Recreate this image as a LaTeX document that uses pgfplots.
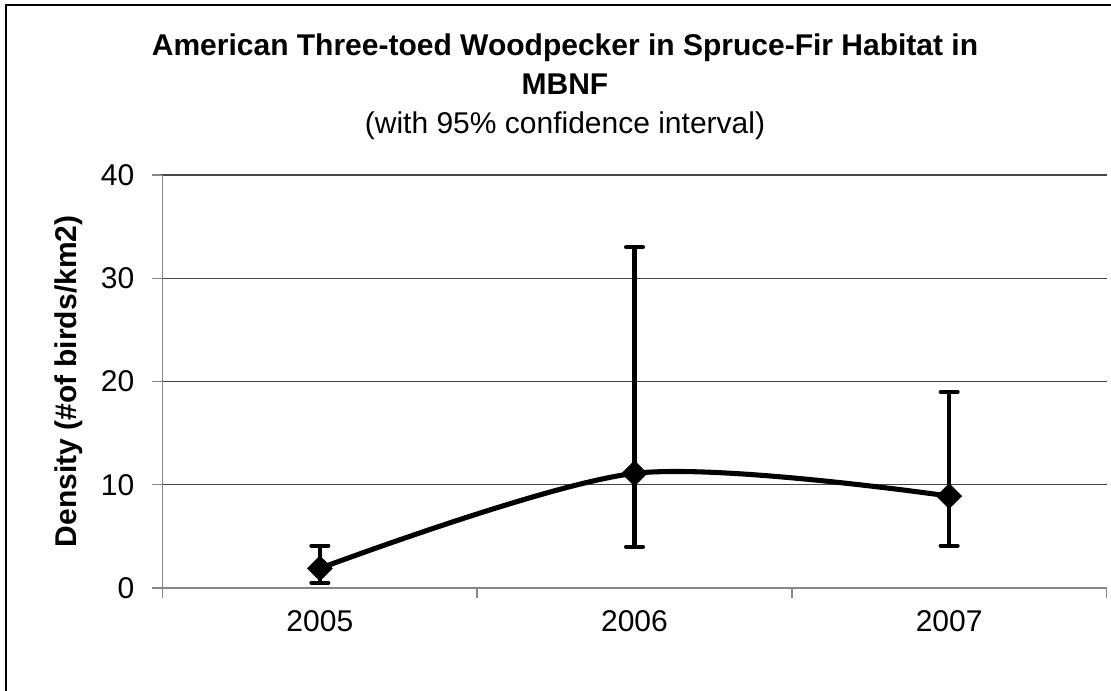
\documentclass[border=0pt]{standalone}
\usepackage{pgfplots}
\pgfplotsset{compat=1.18}
\usepackage{pgfplotstable}
\usepackage{fontspec}
\setmainfont{Liberation Sans}
\pgfplotstableread{
x y ep em
0 1.9 2.2 1.4
1 11.1 21.9 7.1
2 8.9 10.1 4.8
}\datatable
\definecolor{axgray}{RGB}{134,134,134}
\definecolor{gridgray}{RGB}{70,70,70}
\begin{document}
\begin{tikzpicture}
\useasboundingbox (0pt,0pt) rectangle (833.25pt,517.5pt);
\fontsize{22.5}{27}\selectfont
% outer frame (left and top edges visible)
\draw[black, line width=1.5pt] (4.5pt,-2pt) -- (4.5pt,513.75pt) -- (840pt,513.75pt);
\begin{axis}[
  at={(121.875pt,76.5pt)}, anchor=south west,
  scale only axis, width=708pt, height=309.75pt,
  xmin=-0.5, xmax=2.5, ymin=0, ymax=40,
  axis x line*=bottom, axis y line*=left,
  axis line style={axgray, line width=1.4pt},
  ytick={0,10,20,30,40},
  ymajorgrids, grid style={gridgray, line width=0.9pt},
  tick align=outside, major tick length=7.5pt,
  every tick/.style={axgray, line width=1.1pt},
  xtick={-0.5,0.5,1.5,2.5}, xticklabels={},
  extra x ticks={0,1,2}, extra x tick labels={2005,2006,2007},
  extra x tick style={major tick length=0pt, grid=none},
  /pgf/number format/assume math mode=true,
  tick label style={font=\fontsize{22.5}{27}\selectfont},
  yticklabel style={inner sep=0pt, anchor=east, xshift=-13.5pt},
  xticklabel style={inner sep=0pt, anchor=north, yshift=-17pt},
  clip=false,
]
\addplot[black, line width=3.8pt, smooth, tension=0.5, line join=round] table[x=x, y=y] {\datatable};
\addplot[black, only marks, mark=square*, mark size=6.6pt,
  mark options={rotate=45, line width=0.5pt, fill=black, solid},
  error bars/.cd, y dir=both, y explicit,
  error bar style={black, line width=3.2pt},
  error mark options={black, line width=3.2pt, mark size=6.3pt, line cap=round, rotate=90}]
  table[x=x, y=y, y error plus=ep, y error minus=em] {\datatable};
\end{axis}
\node[anchor=base, inner sep=0pt, font=\fontsize{22.5}{27}\selectfont\bfseries] at (423.75pt,475.5pt) {American Three-toed Woodpecker in Spruce-Fir Habitat in};
\node[anchor=base, inner sep=0pt, font=\fontsize{22.5}{27}\selectfont\bfseries] at (423.75pt,446.25pt) {MBNF};
\node[anchor=base, inner sep=0pt, font=\fontsize{22.5}{27}\selectfont] at (423.75pt,417pt) {(with 95\% confidence interval)};
\node[anchor=base, inner sep=0pt, rotate=90, font=\fontsize{22.5}{27}\selectfont\bfseries] at (57.5pt,231.4pt) {Density (\#of birds/km2)};
\end{tikzpicture}
\end{document}
